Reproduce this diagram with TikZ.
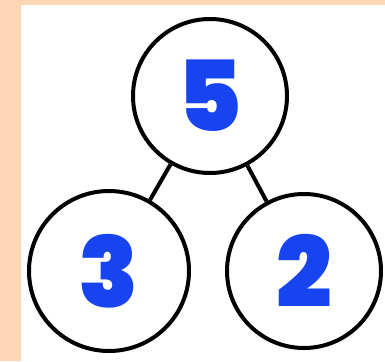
\documentclass[tikz,border=0pt]{standalone}
\usepackage{fontspec}
\newfontfamily\numfont{Poppins}[BoldFont={Poppins Black}]
\usepackage{tikz}
\usetikzlibrary{positioning}
\definecolor{Peach}{HTML}{FDD6B6}
\definecolor{NumBlue}{HTML}{1744EE}
\tikzset{
  bond/.style={line width=4pt,color=black},
  part/.style={circle,draw=black,line width=4pt,fill=white,inner sep=0pt,
    minimum size=160pt,text=NumBlue,font=\numfont\bfseries\fontsize{98}{98}\selectfont},
  whole/.style={part,minimum size=154pt}
}
\begin{document}
\begin{tikzpicture}[x=1pt,y=1pt]
  \fill[Peach] (0,0) rectangle (385,-361);
  \fill[white] (21,-5) rectangle (385,-361);
  \useasboundingbox (0,0) rectangle (385,-361);
  % number bond: whole on top, parts below
  \node[whole] (total) at (210,-96) {5};
  \node[part] (left) at (109,-271) {3};
  \node[part,minimum size=154pt] (right) at (304,-271) {2};
  \draw[bond] (total) -- (left);
  \draw[bond] (total) -- (right);
\end{tikzpicture}
\end{document}
